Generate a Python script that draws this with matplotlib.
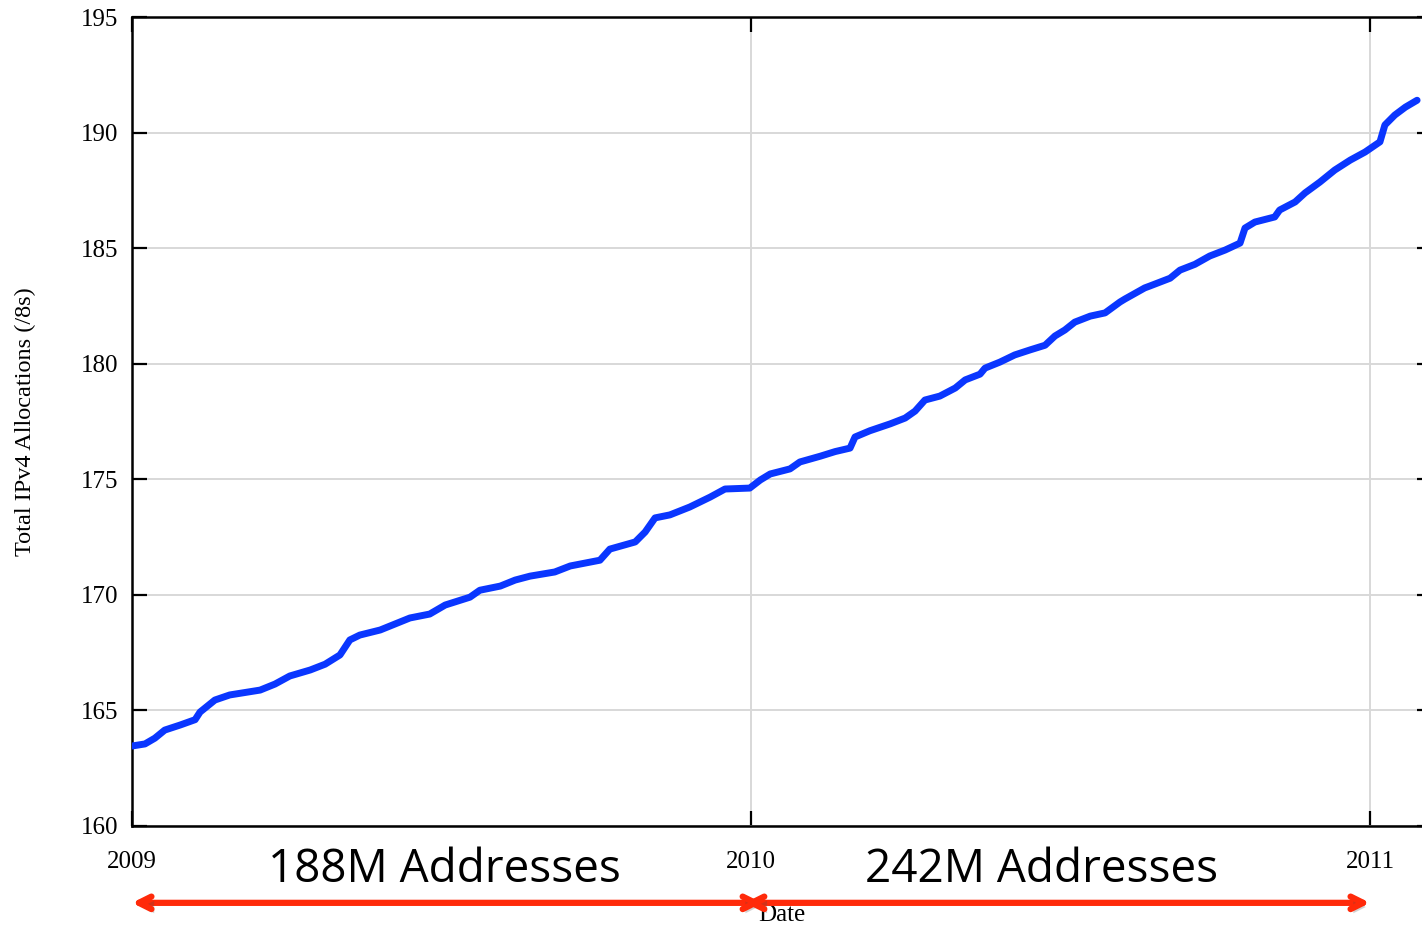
import matplotlib
matplotlib.use('Agg')
import matplotlib.pyplot as plt
import matplotlib.patheffects as pe

# year fraction vs. total /8s allocated
years = [2009.000, 2009.021, 2009.037, 2009.053, 2009.078, 2009.102, 2009.110,
         2009.134, 2009.158, 2009.207, 2009.231, 2009.255, 2009.288, 2009.312,
         2009.336, 2009.352, 2009.368, 2009.401, 2009.425, 2009.449, 2009.481,
         2009.506, 2009.546, 2009.562, 2009.595, 2009.619, 2009.643, 2009.683,
         2009.708, 2009.756, 2009.772, 2009.813, 2009.829, 2009.845, 2009.869,
         2009.901, 2009.934, 2009.958, 2009.998, 2010.015, 2010.031, 2010.063,
         2010.079, 2010.112, 2010.136, 2010.160, 2010.168, 2010.192, 2010.225,
         2010.249, 2010.265, 2010.281, 2010.305, 2010.330, 2010.346, 2010.370,
         2010.378, 2010.402, 2010.426, 2010.451, 2010.475, 2010.491, 2010.507,
         2010.523, 2010.548, 2010.572, 2010.596, 2010.604, 2010.636, 2010.644,
         2010.677, 2010.693, 2010.717, 2010.741, 2010.766, 2010.790, 2010.798,
         2010.814, 2010.846, 2010.854, 2010.879, 2010.895, 2010.919, 2010.943,
         2010.968, 2010.992, 2011.016, 2011.024, 2011.040, 2011.057, 2011.076]
allocs = [163.46, 163.55, 163.80, 164.15, 164.37, 164.60, 164.93,
          165.45, 165.67, 165.88, 166.14, 166.49, 166.75, 167.00,
          167.40, 168.05, 168.26, 168.48, 168.74, 169.00, 169.17,
          169.56, 169.90, 170.20, 170.38, 170.64, 170.81, 170.99,
          171.25, 171.50, 171.98, 172.29, 172.72, 173.33, 173.46,
          173.80, 174.23, 174.58, 174.62, 174.97, 175.23, 175.45,
          175.75, 176.00, 176.20, 176.35, 176.83, 177.10, 177.40,
          177.65, 177.95, 178.43, 178.60, 178.95, 179.30, 179.55,
          179.81, 180.07, 180.38, 180.60, 180.80, 181.20, 181.46,
          181.80, 182.06, 182.20, 182.67, 182.80, 183.28, 183.36,
          183.70, 184.05, 184.30, 184.66, 184.92, 185.22, 185.87,
          186.13, 186.35, 186.65, 187.00, 187.39, 187.86, 188.38,
          188.81, 189.16, 189.60, 190.33, 190.76, 191.10, 191.40]

x_ticks = [2009, 2010, 2011]
y_ticks = [160, 165, 170, 175, 180, 185, 190, 195]
spans = [(2009.0, 2010.018, '188M Addresses', 2009.505),
         (2009.990, 2011.0, '242M Addresses', 2010.469)]

serif = 'Liberation Serif'

fig = plt.figure(figsize=(14.22, 9.26), dpi=100)
ax = fig.add_axes([0.0928, 0.108, 0.9142, 0.8736])

ax.plot(years, allocs, color='#0a36ff', linewidth=5, solid_capstyle='round',
        solid_joinstyle='round', zorder=3)

ax.set_xlim(2009, 2011.1)
ax.set_ylim(160, 195)
ax.set_xticks(x_ticks)
ax.set_xticklabels([str(t) for t in x_ticks], fontfamily=serif, fontsize=18)
ax.set_yticks(y_ticks)
ax.set_yticklabels([str(t) for t in y_ticks], fontfamily=serif, fontsize=18)
ax.tick_params(axis='both', direction='in', length=11, width=1.6,
               top=True, right=True, color='black')
ax.tick_params(axis='x', pad=18)
ax.tick_params(axis='y', pad=10)
ax.grid(True, color='#d8d8d8', linewidth=1.4)
ax.set_axisbelow(True)
for s in ax.spines.values():
    s.set_linewidth(1.8)

ax.set_ylabel('Total IPv4 Allocations (/8s)', fontfamily=serif, fontsize=17.5)
ax.yaxis.set_label_coords(-0.074, 0.5)
ax.set_xlabel('Date', fontfamily=serif, fontsize=18, labelpad=0)
ax.xaxis.set_label_coords(0.5, -0.097)

for x0, x1, label, xc in spans:
    ax.annotate('', xy=(x0, -0.095), xytext=(x1, -0.095),
                xycoords=('data', 'axes fraction'),
                textcoords=('data', 'axes fraction'),
                annotation_clip=False,
                arrowprops=dict(arrowstyle='<->,head_length=0.9,head_width=0.45',
                                color='#ff2a0a', lw=4.5, shrinkA=0, shrinkB=0,
                                path_effects=[pe.SimplePatchShadow(offset=(2, -3), alpha=0.25),
                                              pe.Normal()]))
    ax.text(xc, -0.054, label, transform=ax.get_xaxis_transform(),
            ha='center', va='center', fontfamily='Open Sans', fontsize=33,
            clip_on=False)

fig.savefig('out.png', dpi=100)
